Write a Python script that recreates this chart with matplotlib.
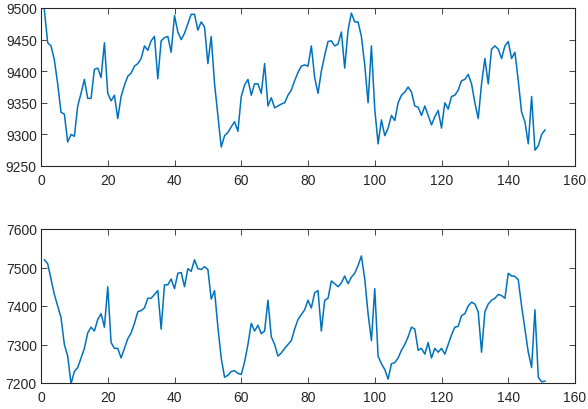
import matplotlib
matplotlib.use("Agg")
import matplotlib.pyplot as plt
import numpy as np

x_values = list(range(1, 152))

series_top = [
    9497, 9445, 9440, 9418, 9380, 9335, 9332, 9288, 9300, 9297,
    9345, 9365, 9387, 9357, 9357, 9403, 9405, 9390, 9445, 9365,
    9353, 9362, 9325, 9360, 9378, 9392, 9397, 9408, 9412, 9420,
    9440, 9433, 9448, 9455, 9388, 9448, 9453, 9455, 9430, 9488,
    9462, 9450, 9460, 9475, 9490, 9490, 9465, 9478, 9470, 9412,
    9455, 9380, 9330, 9280, 9298, 9303, 9312, 9320, 9305, 9360,
    9378, 9387, 9362, 9380, 9380, 9365, 9412, 9345, 9358, 9342,
    9345, 9348, 9350, 9362, 9370, 9385, 9398, 9408, 9410, 9408,
    9440, 9390, 9365, 9400, 9425, 9447, 9448, 9440, 9443, 9462,
    9405, 9465, 9492, 9478, 9478, 9455, 9410, 9350, 9440, 9340,
    9285, 9323, 9298, 9310, 9330, 9322, 9350, 9362, 9367, 9375,
    9367, 9345, 9343, 9330, 9345, 9330, 9315, 9328, 9338, 9310,
    9350, 9340, 9360, 9362, 9370, 9385, 9387, 9395, 9380, 9350,
    9325, 9380, 9420, 9380, 9435, 9440, 9435, 9420, 9440, 9447,
    9420, 9430, 9385, 9335, 9320, 9285, 9360, 9275, 9282, 9300,
    9307,
]

series_bottom = [
    7520, 7510, 7470, 7430, 7400, 7370, 7300, 7270, 7198, 7230,
    7240, 7265, 7290, 7330, 7345, 7335, 7365, 7380, 7345, 7450,
    7305, 7290, 7290, 7265, 7290, 7315, 7330, 7355, 7385, 7388,
    7395, 7420, 7420, 7430, 7440, 7340, 7455, 7455, 7470, 7445,
    7485, 7487, 7450, 7497, 7490, 7520, 7497, 7495, 7502, 7495,
    7418, 7440, 7345, 7265, 7215, 7220, 7230, 7232, 7225, 7222,
    7255, 7300, 7355, 7335, 7350, 7328, 7335, 7415, 7320, 7300,
    7270, 7278, 7290, 7300, 7310, 7340, 7365, 7378, 7390, 7415,
    7395, 7435, 7440, 7335, 7415, 7420, 7465, 7458, 7450, 7460,
    7478, 7458, 7475, 7485, 7505, 7530, 7470, 7380, 7310, 7445,
    7270, 7250, 7235, 7210, 7250, 7253, 7265, 7285, 7300, 7320,
    7345, 7340, 7285, 7290, 7275, 7305, 7265, 7290, 7280, 7290,
    7275, 7300, 7325, 7345, 7347, 7375, 7380, 7400, 7410, 7405,
    7385, 7280, 7385, 7405, 7415, 7420, 7430, 7427, 7420, 7485,
    7478, 7477, 7468, 7400, 7340, 7280, 7240, 7390, 7215, 7203,
    7205,
]

x_ticks = [0, 20, 40, 60, 80, 100, 120, 140, 160]
y_ticks_top = [9250, 9300, 9350, 9400, 9450, 9500]
y_ticks_bottom = [7200, 7300, 7400, 7500, 7600]

W, H = 588, 410
fig = plt.figure(figsize=(W / 100, H / 100), dpi=100)
plt.rcParams['font.family'] = ['Liberation Sans', 'DejaVu Sans']

line_color = '#0072BD'
axis_color = '#262626'


def style(ax, yticks):
    ax.set_xlim(0, 160)
    ax.set_ylim(yticks[0], yticks[-1])
    ax.set_xticks(x_ticks)
    ax.set_yticks(yticks)
    ax.tick_params(direction='in', length=4, width=0.6, colors=axis_color,
                   labelsize=10, top=True, right=True, labeltop=False,
                   labelright=False)
    ax.tick_params(axis='x', pad=5)
    ax.tick_params(axis='y', pad=3)
    for s in ax.spines.values():
        s.set_color(axis_color)
        s.set_linewidth(0.8)


ax1 = fig.add_axes([41 / W, 1 - 167 / H, 534 / W, 158 / H])
ax1.plot(x_values, series_top, color=line_color, linewidth=1.1)
style(ax1, y_ticks_top)

ax2 = fig.add_axes([41 / W, 1 - 384 / H, 534 / W, 154 / H])
ax2.plot(x_values, series_bottom, color=line_color, linewidth=1.1)
style(ax2, y_ticks_bottom)

fig.savefig('out.png', dpi=100)
